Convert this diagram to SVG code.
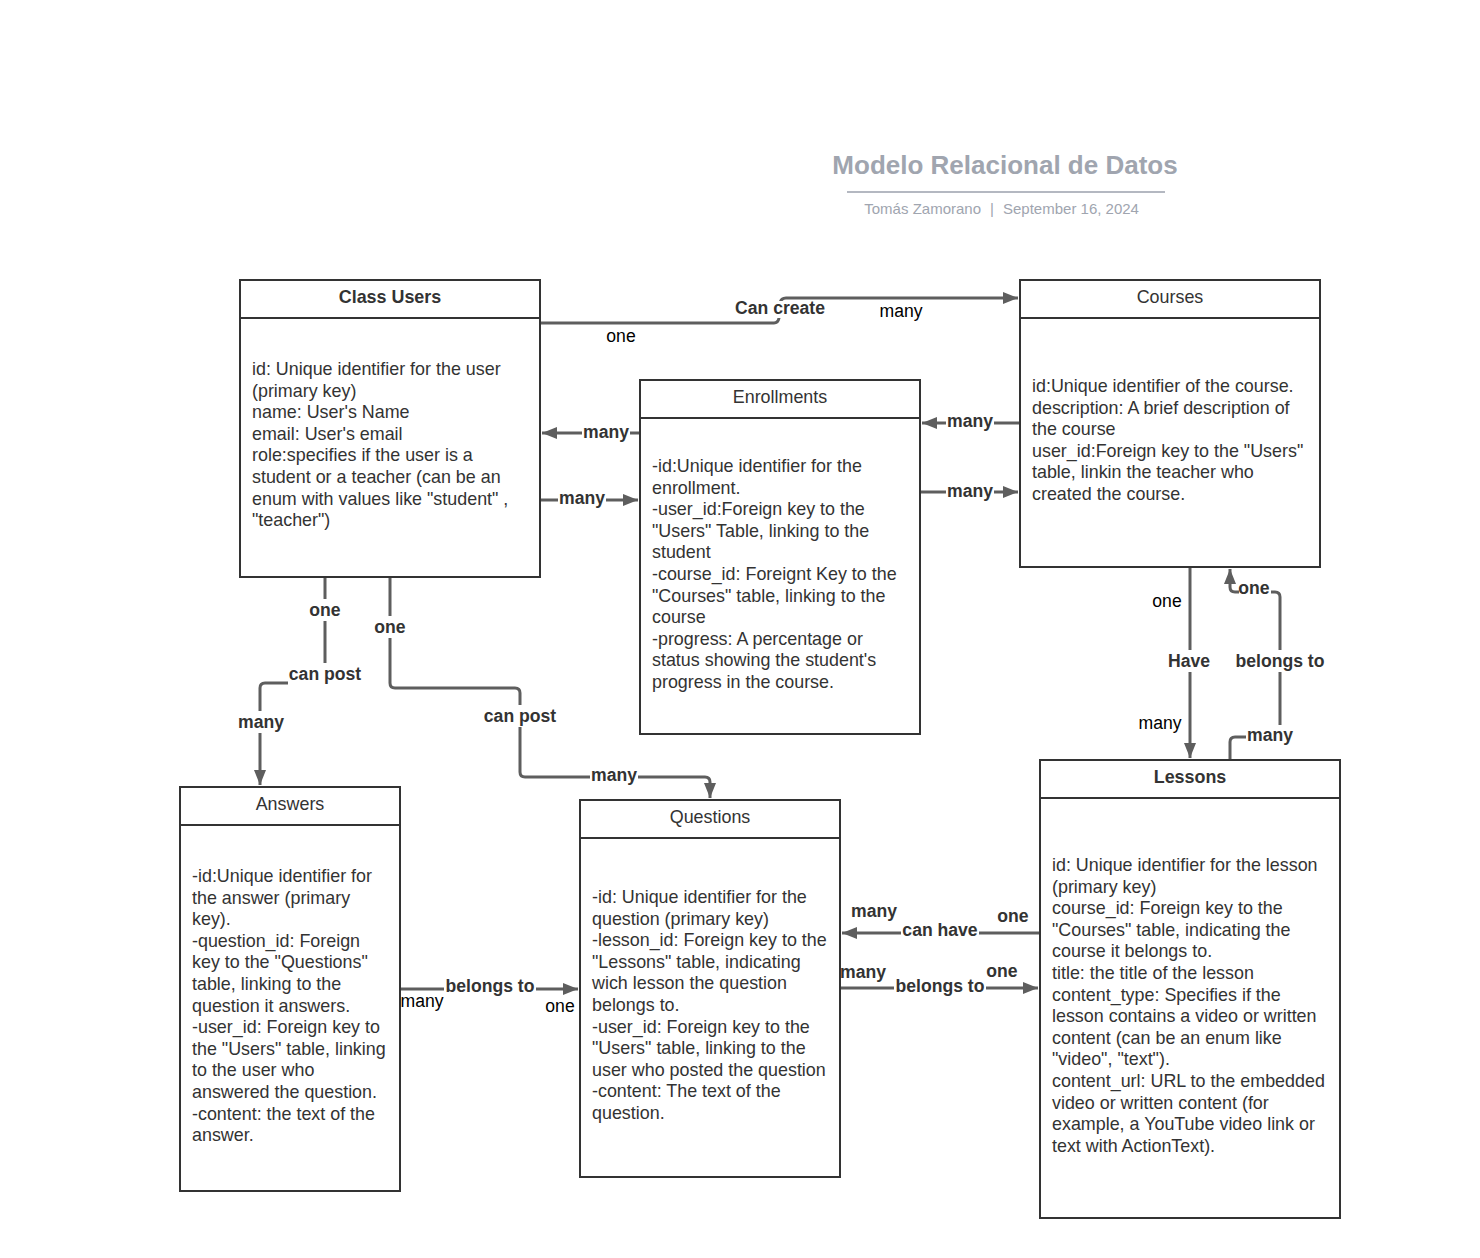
<svg xmlns="http://www.w3.org/2000/svg" width="1480" height="1258" viewBox="0 0 1480 1258">
<style>
  text { font-family: "Liberation Sans", Arial, sans-serif; }
  .box { fill: #ffffff; stroke: #333333; stroke-width: 2; }
  .div { stroke: #333333; stroke-width: 2; }
  .body { font-size: 17.9px; fill: #333333; }
  .hd { font-size: 17.9px; fill: #333333; text-anchor: middle; }
  .hdb { font-size: 17.9px; fill: #333333; text-anchor: middle; font-weight: bold; }
  .conn { fill: none; stroke: #5e5e5e; stroke-width: 3; }
  .lb { font-size: 17.6px; fill: #333333; font-weight: bold; text-anchor: middle; }
  .ln { font-size: 17.6px; fill: #000000; text-anchor: middle; }
  .bg { fill: #ffffff; }
  .title { font-size: 26px; font-weight: bold; fill: #a0a5af; text-anchor: middle; }
  .sub { font-size: 15px; fill: #a0a5af; }
</style>
<defs>
  <marker id="arr" markerUnits="userSpaceOnUse" markerWidth="16" markerHeight="14" refX="15" refY="7" orient="auto">
    <path d="M0,1 L15,7 L0,13 z" fill="#5e5e5e"/>
  </marker>
</defs>
<rect width="1480" height="1258" fill="#ffffff"/>

<g id="title">
  <text class="title" x="1005" y="174">Modelo Relacional de Datos</text>
  <line x1="847" y1="192" x2="1165" y2="192" stroke="#b4b8c1" stroke-width="2"/>
  <text class="sub" x="981" y="214" text-anchor="end">Tomás Zamorano</text>
  <text class="sub" x="992" y="214" text-anchor="middle">|</text>
  <text class="sub" x="1003" y="214">September 16, 2024</text>
</g>

<g id="connectors">
  <!-- Class Users -> Courses -->
  <path class="conn" d="M540 323 H774 Q778 323 779 318 L780 303 Q781 298 786 298 H1018" marker-end="url(#arr)"/>
  <rect class="bg" x="733" y="301" width="94" height="17"/>
  <text class="lb" x="780" y="314">Can create</text>
  <text class="ln" x="621" y="342">one</text>
  <text class="ln" x="901" y="317">many</text>

  <!-- Enrollments -> Class Users -->
  <path class="conn" d="M640 433 H542" marker-end="url(#arr)"/>
  <rect class="bg" x="582" y="422" width="48" height="22"/>
  <text class="lb" x="606" y="438">many</text>
  <!-- Class Users -> Enrollments -->
  <path class="conn" d="M540 500 H638" marker-end="url(#arr)"/>
  <rect class="bg" x="558" y="488" width="48" height="22"/>
  <text class="lb" x="582" y="504">many</text>

  <!-- Courses -> Enrollments -->
  <path class="conn" d="M1020 423 H922" marker-end="url(#arr)"/>
  <rect class="bg" x="946" y="411" width="48" height="22"/>
  <text class="lb" x="970" y="427">many</text>
  <!-- Enrollments -> Courses -->
  <path class="conn" d="M920 492 H1018" marker-end="url(#arr)"/>
  <rect class="bg" x="946" y="480" width="48" height="22"/>
  <text class="lb" x="970" y="497">many</text>

  <!-- Courses -> Lessons (Have) -->
  <path class="conn" d="M1190 567 V758" marker-end="url(#arr)"/>
  <rect class="bg" x="1166" y="650" width="48" height="22"/>
  <text class="lb" x="1189" y="667">Have</text>
  <text class="ln" x="1167" y="607">one</text>
  <text class="ln" x="1160" y="729">many</text>

  <!-- Lessons -> Courses (belongs to) -->
  <path class="conn" d="M1230 760 V742 Q1230 737 1235 737 H1275 Q1280 737 1280 732 V597 Q1280 592 1275 592 H1235 Q1230 592 1230 587 V569" marker-end="url(#arr)"/>
  <rect class="bg" x="1233" y="650" width="94" height="22"/>
  <text class="lb" x="1280" y="667">belongs to</text>
  <rect class="bg" x="1239" y="578" width="32" height="20"/>
  <text class="lb" x="1254" y="594">one</text>
  <rect class="bg" x="1246" y="725" width="48" height="20"/>
  <text class="lb" x="1270" y="741">many</text>

  <!-- Class Users -> Answers -->
  <path class="conn" d="M325 577 V683 H265 Q260 683 260 688 V785" marker-end="url(#arr)"/>
  <rect class="bg" x="309" y="599" width="32" height="22"/>
  <text class="lb" x="325" y="616">one</text>
  <rect class="bg" x="288" y="663" width="74" height="24"/>
  <text class="lb" x="325" y="680">can post</text>
  <rect class="bg" x="237" y="711" width="48" height="22"/>
  <text class="lb" x="261" y="728">many</text>

  <!-- Class Users -> Questions -->
  <path class="conn" d="M390 577 V683 Q390 688 395 688 H515 Q520 688 520 693 V772 Q520 777 525 777 H705 Q710 777 710 782 V798" marker-end="url(#arr)"/>
  <rect class="bg" x="374" y="616" width="32" height="22"/>
  <text class="lb" x="390" y="633">one</text>
  <rect class="bg" x="482" y="705" width="76" height="22"/>
  <text class="lb" x="520" y="722">can post</text>
  <rect class="bg" x="590" y="765" width="48" height="20"/>
  <text class="lb" x="614" y="781">many</text>

  <!-- Answers -> Questions -->
  <path class="conn" d="M400 989 H578" marker-end="url(#arr)"/>
  <rect class="bg" x="444" y="976" width="92" height="20"/>
  <text class="lb" x="490" y="992">belongs to</text>
  <text class="ln" x="422" y="1007">many</text>
  <text class="ln" x="560" y="1012">one</text>

  <!-- Lessons -> Questions (can have) -->
  <path class="conn" d="M1040 933 H842" marker-end="url(#arr)"/>
  <rect class="bg" x="901" y="921" width="78" height="20"/>
  <text class="lb" x="940" y="936">can have</text>
  <text class="lb" x="874" y="917">many</text>
  <text class="lb" x="1013" y="922">one</text>

  <!-- Questions -> Lessons (belongs to) -->
  <path class="conn" d="M840 988 H1038" marker-end="url(#arr)"/>
  <rect class="bg" x="894" y="976" width="92" height="20"/>
  <text class="lb" x="940" y="992">belongs to</text>
  <text class="lb" x="863" y="978">many</text>
  <text class="lb" x="1002" y="977">one</text>
</g>

<g id="class-users">
  <rect class="box" x="240" y="280" width="300" height="297"/>
  <line class="div" x1="240" y1="318" x2="540" y2="318"/>
  <text class="hdb" x="390" y="303">Class Users</text>
  <text class="body" x="252" y="375">
    <tspan x="252" dy="0">id: Unique identifier for the user</tspan>
    <tspan x="252" dy="21.6">(primary key)</tspan>
    <tspan x="252" dy="21.6">name: User's Name</tspan>
    <tspan x="252" dy="21.6">email: User's email</tspan>
    <tspan x="252" dy="21.6">role:specifies if the user is a</tspan>
    <tspan x="252" dy="21.6">student or a teacher (can be an</tspan>
    <tspan x="252" dy="21.6">enum with values like "student" ,</tspan>
    <tspan x="252" dy="21.6">"teacher")</tspan>
  </text>
</g>

<g id="courses">
  <rect class="box" x="1020" y="280" width="300" height="287"/>
  <line class="div" x1="1020" y1="318" x2="1320" y2="318"/>
  <text class="hd" x="1170" y="303">Courses</text>
  <text class="body" x="1032" y="392">
    <tspan x="1032" dy="0">id:Unique identifier of the course.</tspan>
    <tspan x="1032" dy="21.6">description: A brief description of</tspan>
    <tspan x="1032" dy="21.6">the course</tspan>
    <tspan x="1032" dy="21.6">user_id:Foreign key to the "Users"</tspan>
    <tspan x="1032" dy="21.6">table, linkin the teacher who</tspan>
    <tspan x="1032" dy="21.6">created the course.</tspan>
  </text>
</g>

<g id="enrollments">
  <rect class="box" x="640" y="380" width="280" height="354"/>
  <line class="div" x1="640" y1="418" x2="920" y2="418"/>
  <text class="hd" x="780" y="403">Enrollments</text>
  <text class="body" x="652" y="472">
    <tspan x="652" dy="0">-id:Unique identifier for the</tspan>
    <tspan x="652" dy="21.6">enrollment.</tspan>
    <tspan x="652" dy="21.6">-user_id:Foreign key to the</tspan>
    <tspan x="652" dy="21.6">"Users" Table, linking to the</tspan>
    <tspan x="652" dy="21.6">student</tspan>
    <tspan x="652" dy="21.6">-course_id: Foreignt Key to the</tspan>
    <tspan x="652" dy="21.6">"Courses" table, linking to the</tspan>
    <tspan x="652" dy="21.6">course</tspan>
    <tspan x="652" dy="21.6">-progress: A percentage or</tspan>
    <tspan x="652" dy="21.6">status showing the student's</tspan>
    <tspan x="652" dy="21.6">progress in the course.</tspan>
  </text>
</g>

<g id="answers">
  <rect class="box" x="180" y="787" width="220" height="404"/>
  <line class="div" x1="180" y1="825" x2="400" y2="825"/>
  <text class="hd" x="290" y="810">Answers</text>
  <text class="body" x="192" y="882">
    <tspan x="192" dy="0">-id:Unique identifier for</tspan>
    <tspan x="192" dy="21.6">the answer (primary</tspan>
    <tspan x="192" dy="21.6">key).</tspan>
    <tspan x="192" dy="21.6">-question_id: Foreign</tspan>
    <tspan x="192" dy="21.6">key to the "Questions"</tspan>
    <tspan x="192" dy="21.6">table, linking to the</tspan>
    <tspan x="192" dy="21.6">question it answers.</tspan>
    <tspan x="192" dy="21.6">-user_id: Foreign key to</tspan>
    <tspan x="192" dy="21.6">the "Users" table, linking</tspan>
    <tspan x="192" dy="21.6">to the user who</tspan>
    <tspan x="192" dy="21.6">answered the question.</tspan>
    <tspan x="192" dy="21.6">-content: the text of the</tspan>
    <tspan x="192" dy="21.6">answer.</tspan>
  </text>
</g>

<g id="questions">
  <rect class="box" x="580" y="800" width="260" height="377"/>
  <line class="div" x1="580" y1="838" x2="840" y2="838"/>
  <text class="hd" x="710" y="823">Questions</text>
  <text class="body" x="592" y="903">
    <tspan x="592" dy="0">-id: Unique identifier for the</tspan>
    <tspan x="592" dy="21.6">question (primary key)</tspan>
    <tspan x="592" dy="21.6">-lesson_id: Foreign key to the</tspan>
    <tspan x="592" dy="21.6">"Lessons" table, indicating</tspan>
    <tspan x="592" dy="21.6">wich lesson the question</tspan>
    <tspan x="592" dy="21.6">belongs to.</tspan>
    <tspan x="592" dy="21.6">-user_id: Foreign key to the</tspan>
    <tspan x="592" dy="21.6">"Users" table, linking to the</tspan>
    <tspan x="592" dy="21.6">user who posted the question</tspan>
    <tspan x="592" dy="21.6">-content: The text of the</tspan>
    <tspan x="592" dy="21.6">question.</tspan>
  </text>
</g>

<g id="lessons">
  <rect class="box" x="1040" y="760" width="300" height="458"/>
  <line class="div" x1="1040" y1="798" x2="1340" y2="798"/>
  <text class="hdb" x="1190" y="783">Lessons</text>
  <text class="body" x="1052" y="871">
    <tspan x="1052" dy="0">id: Unique identifier for the lesson</tspan>
    <tspan x="1052" dy="21.6">(primary key)</tspan>
    <tspan x="1052" dy="21.6">course_id: Foreign key to the</tspan>
    <tspan x="1052" dy="21.6">"Courses" table, indicating the</tspan>
    <tspan x="1052" dy="21.6">course it belongs to.</tspan>
    <tspan x="1052" dy="21.6">title: the title of the lesson</tspan>
    <tspan x="1052" dy="21.6">content_type: Specifies if the</tspan>
    <tspan x="1052" dy="21.6">lesson contains a video or written</tspan>
    <tspan x="1052" dy="21.6">content (can be an enum like</tspan>
    <tspan x="1052" dy="21.6">"video", "text").</tspan>
    <tspan x="1052" dy="21.6">content_url: URL to the embedded</tspan>
    <tspan x="1052" dy="21.6">video or written content (for</tspan>
    <tspan x="1052" dy="21.6">example, a YouTube video link or</tspan>
    <tspan x="1052" dy="21.6">text with ActionText).</tspan>
  </text>
</g>
</svg>
